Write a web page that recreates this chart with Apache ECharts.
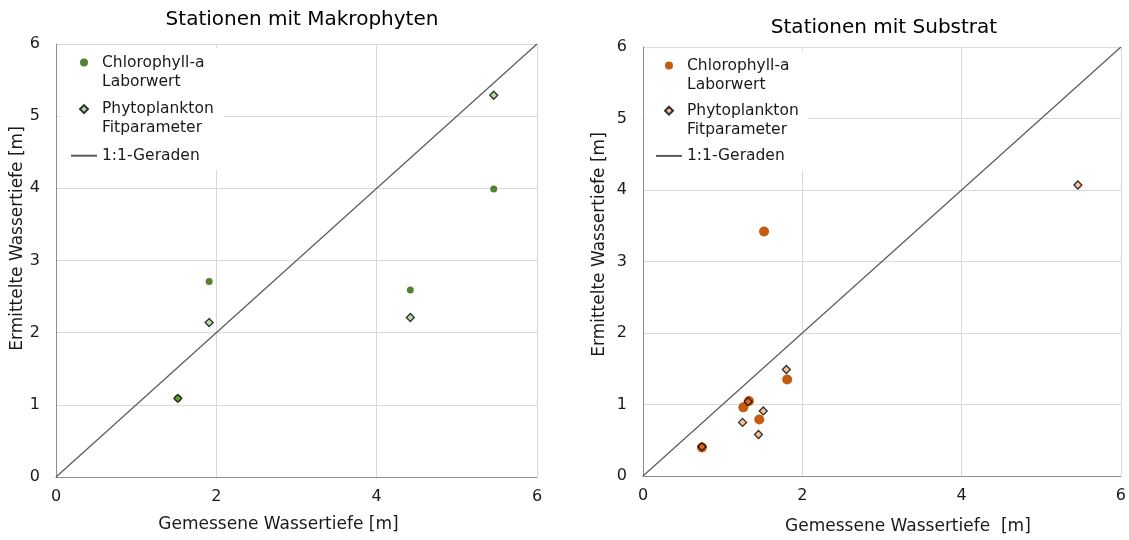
<!DOCTYPE html>
<html>
<head>
<meta charset="utf-8">
<script src="https://cdn.jsdelivr.net/npm/echarts@6/dist/echarts.min.js"></script>
<style>
  html, body { margin: 0; padding: 0; background: #fff; }
  #chart { width: 1129px; height: 540px; }
</style>
</head>
<body>
<div id="chart"></div>
<script>
// Stations with macrophytes: measured depth (x) vs. derived depth (y)
const makroChlX = [1.52, 1.91, 4.42, 5.46];
const makroChlY = [1.09, 2.71, 2.59, 3.99];
const makroPhytoX = [1.52, 1.91, 4.42, 5.46];
const makroPhytoY = [1.09, 2.14, 2.21, 5.29];

// Stations with substrate
const substratChlX = [0.74, 1.26, 1.33, 1.46, 1.81, 1.52];
const substratChlY = [0.40, 0.96, 1.05, 0.79, 1.35, 3.42];
const substratPhytoX = [0.74, 1.25, 1.32, 1.45, 1.51, 1.80, 5.46];
const substratPhytoY = [0.41, 0.75, 1.04, 0.58, 0.91, 1.49, 4.07];

// 1:1 reference line endpoints
const identityLine = [0, 6];

const xTicks = [0, 2, 4, 6];
const yTicks = [0, 1, 2, 3, 4, 5, 6];

const titles = ['Stationen mit Makrophyten', 'Stationen mit Substrat'];
const xNames = ['Gemessene Wassertiefe [m]', 'Gemessene Wassertiefe  [m]'];
const yName = 'Ermittelte Wassertiefe [m]';
const legendNames = {
  chl: ['Chlorophyll-a', 'Laborwert'],
  phyto: ['Phytoplankton', 'Fitparameter'],
  line: ['1:1-Geraden', '']
};

const FONT = 'DejaVu Sans';
const pairs = (xs, ys) => xs.map((x, i) => [x, ys[i]]);

// Legend diamond: a small rhombus in the middle of the 26x8 icon box; the two
// bare move-to points at the ends keep the box wide so it is not stretched.
const LEGEND_DIAMOND = 'path://M0,4 L0,4 M13,0 L17,4 L13,8 L9,4 Z M26,4 L26,4';

const chart = echarts.init(document.getElementById('chart'), null, { renderer: 'canvas' });

function xAxisFor(gridIndex, name, gap, pad) {
  return {
    type: 'value', gridIndex, min: xTicks[0], max: xTicks[xTicks.length - 1], interval: 2,
    name, nameLocation: 'middle', nameGap: gap,
    nameTextStyle: { fontFamily: FONT, fontSize: 17, color: '#1a1a1a', padding: pad },
    axisLine: { show: true, lineStyle: { color: '#8c8c8c', width: 1 } },
    axisTick: { show: false },
    axisLabel: { fontFamily: FONT, fontSize: 16, color: '#1a1a1a', margin: 12 },
    splitLine: { show: true, lineStyle: { color: '#d9d9d9', width: 1 } }
  };
}
function yAxisFor(gridIndex, gap, pad) {
  return {
    type: 'value', gridIndex, min: yTicks[0], max: yTicks[yTicks.length - 1], interval: 1,
    name: yName, nameLocation: 'middle', nameGap: gap,
    nameTextStyle: { fontFamily: FONT, fontSize: 17, color: '#1a1a1a', padding: pad },
    axisLine: { show: true, lineStyle: { color: '#8c8c8c', width: 1 } },
    axisTick: { show: false },
    axisLabel: { fontFamily: FONT, fontSize: 16, color: '#1a1a1a', margin: 16 },
    splitLine: { show: true, lineStyle: { color: '#d9d9d9', width: 1 } }
  };
}

// Each legend label is three lines tall with an empty first line, so the
// icon (vertically centred) lines up with the first visible line of text.
function legendFor(ids, left, top, gap) {
  return {
    orient: 'vertical', left, top, itemGap: gap,
    itemWidth: 26, itemHeight: 8,
    symbolKeepAspect: true,
    padding: [-14, 10, -14, 10],
    backgroundColor: '#ffffff',
    textStyle: { fontFamily: FONT, fontSize: 15.5, lineHeight: 19, color: '#1a1a1a' },
    formatter: (n) => ['', ...legendNames[n.split('_')[0]]].join('\n'),
    data: [
      { name: ids[0], icon: 'circle' },
      { name: ids[1], icon: LEGEND_DIAMOND },
      { name: ids[2], itemStyle: { opacity: 0, borderWidth: 0 } }
    ]
  };
}

const diamondBorder = { borderColor: '#000000', borderWidth: 1.3 };

const option = {
  animation: false,
  backgroundColor: '#ffffff',
  title: [
    { text: titles[0], left: 302, top: 10, textAlign: 'center', padding: 0,
      textStyle: { fontFamily: FONT, fontSize: 20, fontWeight: 'normal', color: '#000' } },
    { text: titles[1], left: 884, top: 18, textAlign: 'center', padding: 0,
      textStyle: { fontFamily: FONT, fontSize: 20, fontWeight: 'normal', color: '#000' } }
  ],
  grid: [
    { left: 56, top: 44, width: 481, height: 433 },
    { left: 643, top: 47, width: 481, height: 432 }
  ],
  xAxis: [
    xAxisFor(0, xNames[0], 39, [0, 36, 0, 0]),
    xAxisFor(1, xNames[1], 42, [0, 0, 0, 52])
  ],
  yAxis: [
    yAxisFor(0, 30, [0, 0, 0, 44]),
    yAxisFor(1, 35, [0, 0, 0, 34])
  ],
  legend: [
    legendFor(['chl_m', 'phyto_m', 'line_m'], 60, 48, -10.4),
    legendFor(['chl_s', 'phyto_s', 'line_s'], 645, 51, -11.8)
  ],
  series: [
    {
      name: 'line_m', type: 'line', xAxisIndex: 0, yAxisIndex: 0,
      data: identityLine.map(v => [v, v]), symbol: 'none', silent: true,
      lineStyle: { color: '#5a5a5a', width: 1.2 }, itemStyle: { color: '#5a5a5a' }, z: 2
    },
    {
      name: 'chl_m', type: 'scatter', xAxisIndex: 0, yAxisIndex: 0,
      data: pairs(makroChlX, makroChlY), symbol: 'circle', symbolSize: 7,
      itemStyle: { color: '#548235', opacity: 1 }, z: 3
    },
    {
      name: 'phyto_m', type: 'scatter', xAxisIndex: 0, yAxisIndex: 0,
      data: pairs(makroPhytoX, makroPhytoY), symbol: 'diamond', symbolSize: 8,
      itemStyle: Object.assign({ color: 'rgba(112,173,71,0.6)' }, diamondBorder), z: 4
    },
    {
      name: 'line_s', type: 'line', xAxisIndex: 1, yAxisIndex: 1,
      data: identityLine.map(v => [v, v]), symbol: 'none', silent: true,
      lineStyle: { color: '#5a5a5a', width: 1.2 }, itemStyle: { color: '#5a5a5a' }, z: 2
    },
    {
      name: 'chl_s', type: 'scatter', xAxisIndex: 1, yAxisIndex: 1,
      data: pairs(substratChlX, substratChlY), symbol: 'circle', symbolSize: 10,
      itemStyle: { color: '#c55a11', opacity: 1 }, z: 3
    },
    {
      name: 'phyto_s', type: 'scatter', xAxisIndex: 1, yAxisIndex: 1,
      data: pairs(substratPhytoX, substratPhytoY), symbol: 'diamond', symbolSize: 8,
      itemStyle: Object.assign({ color: 'rgba(237,125,49,0.6)' }, diamondBorder), z: 4
    }
  ]
};

chart.setOption(option);
</script>
</body>
</html>
